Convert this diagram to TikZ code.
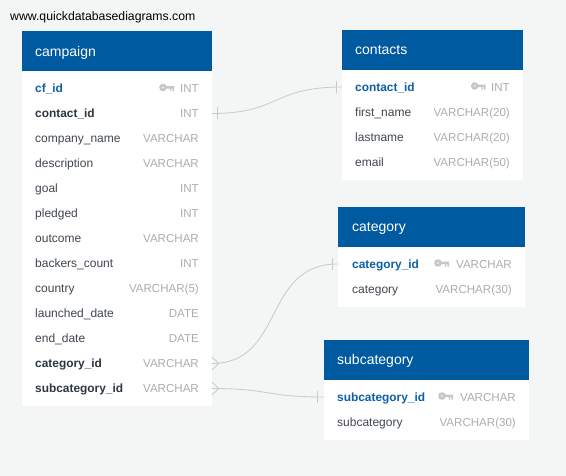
\documentclass[tikz,border=0pt]{standalone}
\usepackage{fontspec}
\setmainfont{Liberation Sans}
\definecolor{pagebg}{HTML}{F4F6F6}
\definecolor{headblue}{HTML}{005AA0}
\definecolor{keyblue}{HTML}{0F5FA5}
\definecolor{darktxt}{HTML}{2E3740}
\definecolor{normtxt}{HTML}{3F4750}
\definecolor{typegray}{HTML}{A9AEB3}
\definecolor{keygray}{HTML}{C4C8CB}
\definecolor{linkgray}{HTML}{C9CCCC}
\tikzset{
  x=1pt,y=-1pt,
  tablebody/.style={fill=white,draw=none,anchor=north west,inner sep=0pt},
  tablehead/.style={fill=headblue,draw=none,anchor=north west,inner sep=0pt},
  rowtxt/.style={inner sep=0pt,text height=11pt,text depth=2.4pt},
  headtxt/.style={rowtxt,anchor=west,text=white,font=\fontsize{14}{16}\selectfont},
  pkname/.style={rowtxt,anchor=west,text=keyblue,font=\fontsize{11.9}{14}\selectfont\bfseries},
  fkname/.style={rowtxt,anchor=west,text=darktxt,font=\fontsize{11.9}{14}\selectfont\bfseries},
  plainname/.style={rowtxt,anchor=west,text=normtxt,font=\fontsize{12}{14}\selectfont},
  typetxt/.style={rowtxt,anchor=east,text=typegray,font=\fontsize{11.55}{14}\selectfont},
  link/.style={draw=linkgray,line width=0.85pt},
  tick/.style={draw=linkgray,line width=0.85pt},
  keyicon/.style={draw=none,fill=keygray},
}
% key icon: its right end at the given point
\newcommand{\keyglyph}[1]{%
  \begin{scope}[shift={(#1)}]
    \fill[keyicon,even odd rule] (-11,-1) circle (3.8) (-11,-1) circle (1.1);
    \fill[keyicon] (-8,-2.3) rectangle (0,0.2) (-4.2,0.2) rectangle (-2.9,2.6) (-1.6,0.2) rectangle (0,2.6);
  \end{scope}}
\begin{document}
\begin{tikzpicture}
\useasboundingbox (0,0) rectangle (566,476);
\fill[pagebg] (0,0) rectangle (566,476);

\node[rowtxt,anchor=west,text=black,font=\fontsize{12.25}{14}\selectfont] (site) at (10,16) {www.quickdatabasediagrams.com};

% campaign
\node[tablebody,minimum width=189.5pt,minimum height=375pt] (cbody) at (22,31) {};
\node[tablehead,minimum width=189.5pt,minimum height=40pt] (chead) at (22,31) {};
\node[headtxt] (ctitle) at (35,52) {campaign};
\node[pkname] (c1) at (35,88.5) {cf\_id};
\node[typetxt] (t1) at (199,88.5) {INT};
\keyglyph{174,88.5}
\node[fkname] (c2) at (35,113.5) {contact\_id};
\node[typetxt] (t2) at (199,113.5) {INT};
\node[plainname] (c3) at (35,138.5) {company\_name};
\node[typetxt] (t3) at (199,138.5) {VARCHAR};
\node[plainname] (c4) at (35,163.5) {description};
\node[typetxt] (t4) at (199,163.5) {VARCHAR};
\node[plainname] (c5) at (35,188.5) {goal};
\node[typetxt] (t5) at (199,188.5) {INT};
\node[plainname] (c6) at (35,213.5) {pledged};
\node[typetxt] (t6) at (199,213.5) {INT};
\node[plainname] (c7) at (35,238.5) {outcome};
\node[typetxt] (t7) at (199,238.5) {VARCHAR};
\node[plainname] (c8) at (35,263.5) {backers\_count};
\node[typetxt] (t8) at (199,263.5) {INT};
\node[plainname] (c9) at (35,288.5) {country};
\node[typetxt] (t9) at (199,288.5) {VARCHAR(5)};
\node[plainname] (c10) at (35,313.5) {launched\_date};
\node[typetxt] (t10) at (199,313.5) {DATE};
\node[plainname] (c11) at (35,338.5) {end\_date};
\node[typetxt] (t11) at (199,338.5) {DATE};
\node[fkname] (c12) at (35,363.5) {category\_id};
\node[typetxt] (t12) at (199,363.5) {VARCHAR};
\node[fkname] (c13) at (35,388.5) {subcategory\_id};
\node[typetxt] (t13) at (199,388.5) {VARCHAR};

% contacts
\node[tablebody,minimum width=181pt,minimum height=150pt] (kbody) at (342,30) {};
\node[tablehead,minimum width=181pt,minimum height=40pt] (khead) at (342,30) {};
\node[headtxt] (ktitle) at (355,50.5) {contacts};
\node[pkname] (k1) at (355,87) {contact\_id};
\node[typetxt] (u1) at (510,87) {INT};
\keyglyph{485.7,87}
\node[plainname] (k2) at (355,112) {first\_name};
\node[typetxt] (u2) at (510,112) {VARCHAR(20)};
\node[plainname] (k3) at (355,137) {lastname};
\node[typetxt] (u3) at (510,137) {VARCHAR(20)};
\node[plainname] (k4) at (355,162) {email};
\node[typetxt] (u4) at (510,162) {VARCHAR(50)};

% category
\node[tablebody,minimum width=187pt,minimum height=100pt] (gbody) at (338,207) {};
\node[tablehead,minimum width=187pt,minimum height=40pt] (ghead) at (338,207) {};
\node[headtxt] (gtitle) at (352,227.5) {category};
\node[pkname] (g1) at (352,264) {category\_id};
\node[typetxt] (v1) at (512,264) {VARCHAR};
\keyglyph{449,264}
\node[plainname] (g2) at (352,289) {category};
\node[typetxt] (v2) at (512,289) {VARCHAR(30)};

% subcategory
\node[tablebody,minimum width=205pt,minimum height=100pt] (sbody) at (324,340) {};
\node[tablehead,minimum width=205pt,minimum height=40pt] (shead) at (324,340) {};
\node[headtxt] (stitle) at (337,360.5) {subcategory};
\node[pkname] (s1) at (337,397) {subcategory\_id};
\node[typetxt] (w1) at (516,397) {VARCHAR};
\keyglyph{453,397}
\node[plainname] (s2) at (337,422) {subcategory};
\node[typetxt] (w2) at (516,422) {VARCHAR(30)};

% connectors
\draw[link] (cbody.east |- t2) .. controls (280,113.5) and (272,87) .. (kbody.west |- k1);
\draw[link] (cbody.east |- t12) .. controls (285,363.5) and (262,264) .. (gbody.west |- g1);
\draw[link] (cbody.east |- t13) .. controls (270,388.5) and (265,397) .. (sbody.west |- s1);

% one-side ticks
\draw[tick] ([xshift=5.5pt,yshift=6pt]cbody.east |- t2) -- ++(0,12);
\draw[tick] ([xshift=-6pt,yshift=6pt]kbody.west |- k1) -- ++(0,12);
\draw[tick] ([xshift=-5.5pt,yshift=6pt]gbody.west |- g1) -- ++(0,12);
\draw[tick] ([xshift=-6.5pt,yshift=6pt]sbody.west |- s1) -- ++(0,12);

% crow's feet
\draw[tick] ([yshift=6.5pt]cbody.east |- t12) -- ++(7,6.5) -- ++(-7,6.5);
\draw[tick] ([yshift=6.5pt]cbody.east |- t13) -- ++(7,6.5) -- ++(-7,6.5);
\end{tikzpicture}
\end{document}
